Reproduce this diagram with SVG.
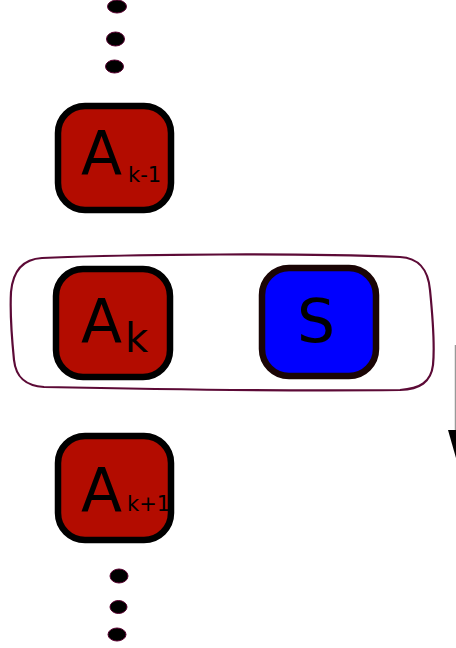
<svg xmlns="http://www.w3.org/2000/svg" width="456" height="648" viewBox="0 0 456 648">
  <style>
    .node { stroke-width: 6.5; }
    .red { fill: #b30c00; stroke: #000000; }
    .blue { fill: #0000ff; stroke: #1a0505; }
    .big { font-family: "DejaVu Sans", sans-serif; font-size: 60px; fill: #000000; }
    .sub { font-family: "DejaVu Sans", sans-serif; font-size: 21px; fill: #000000; }
    .dot { fill: #000000; stroke: #5a0030; stroke-width: 1; }
    .group { fill: none; stroke: #5c0a36; stroke-width: 2.2; }
  </style>

  <!-- ellipsis above -->
  <g id="dots-top">
    <ellipse class="dot" cx="117" cy="6.5" rx="9.5" ry="6.5"/>
    <ellipse class="dot" cx="115.5" cy="39" rx="9" ry="7"/>
    <ellipse class="dot" cx="114.5" cy="66.5" rx="9" ry="6.5"/>
  </g>

  <g id="node-a-km1">
    <rect class="node red" x="58" y="106" width="113" height="104" rx="27"/>
    <text class="big" x="81" y="174">A</text>
    <text class="sub" x="128" y="182">k-1</text>
  </g>

  <!-- hand-drawn grouping around A_k and S -->
  <g id="group-ak-s">
    <path class="group" d="M42,258 C140,254 300,253 400,257 C418,258 428,268 430,290 C433,320 435,345 433,365 C431,382 420,389 400,390 C300,391 140,389 44,387 C26,386 16,378 14,360 C12,340 10,310 11,292 C13,270 24,259 42,258 Z"/>
  </g>

  <g id="node-a-k">
    <rect class="node red" x="56" y="269" width="114" height="108" rx="27"/>
    <text class="big" x="81" y="342">A</text>
    <text x="125" y="352" font-family="DejaVu Sans, sans-serif" font-size="40" fill="#000000">k</text>
  </g>

  <g id="node-s">
    <rect class="node blue" x="262" y="268" width="114" height="108" rx="27"/>
    <text class="big" x="316" y="342" text-anchor="middle">S</text>
  </g>

  <g id="node-a-kp1">
    <rect class="node red" x="58" y="436" width="113" height="104" rx="27"/>
    <text class="big" x="81" y="511">A</text>
    <text class="sub" x="127" y="511">k+1</text>
  </g>

  <!-- ellipsis below -->
  <g id="dots-bottom">
    <ellipse class="dot" cx="119" cy="576" rx="9" ry="7"/>
    <ellipse class="dot" cx="118.5" cy="607" rx="8.5" ry="6.5"/>
    <ellipse class="dot" cx="117" cy="634.5" rx="9" ry="6.5"/>
  </g>

  <g id="connectors">
    <line x1="455.5" y1="345" x2="455.5" y2="432" stroke="#999999" stroke-width="1.5"/>
    <polygon points="448,430 464,430 456,458" fill="#000000"/>
  </g>
</svg>
